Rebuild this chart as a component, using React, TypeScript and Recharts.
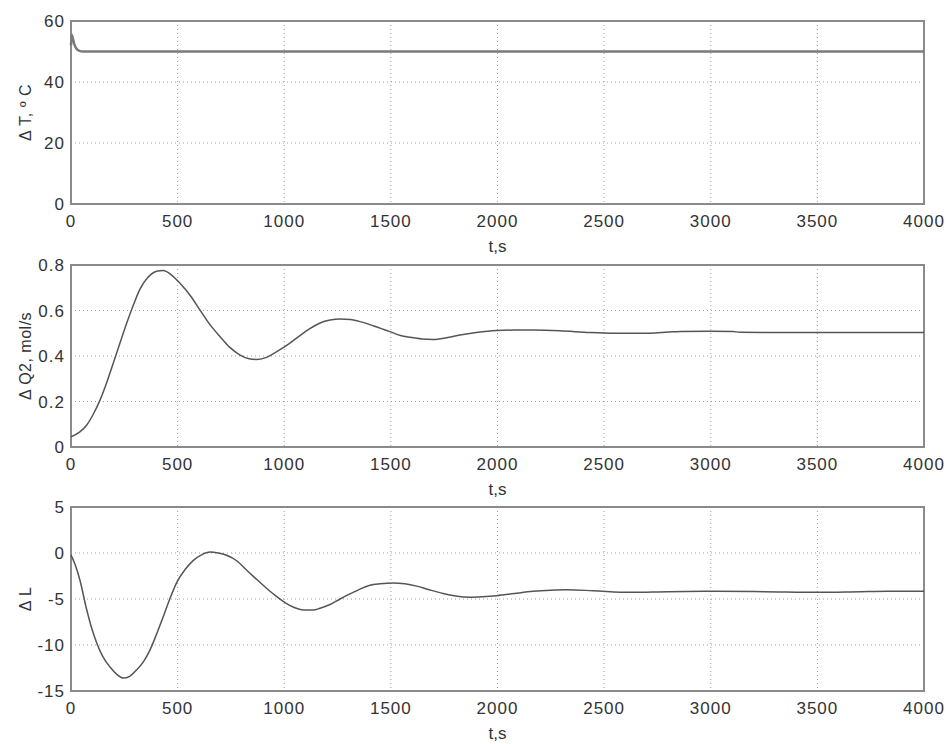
import React from "react";
import {
  LineChart,
  Line,
  XAxis,
  YAxis,
  CartesianGrid,
  ReferenceArea,
} from "recharts";

const timeTicks = [0, 500, 1000, 1500, 2000, 2500, 3000, 3500, 4000];

const tTime = [0, 3, 8, 15, 25, 40, 55, 4000];
const tValues = [52, 55.5, 54.5, 52.5, 51, 50.2, 50, 50];
const tTicks = [0, 20, 40, 60];

const qTime = [
  0, 40, 74, 105, 136, 168, 198, 230, 261, 293, 324, 360, 402, 433, 470, 511, 560,
  605, 650, 699, 745, 793, 835, 871, 920, 965, 1020, 1074, 1120, 1168, 1215, 1262,
  1310, 1355, 1420, 1496, 1545, 1590, 1645, 1698, 1760, 1824, 1900, 1996, 2080,
  2167, 2293, 2434, 2550, 2715, 2800, 2856, 3000, 3105, 3137, 3500, 4000,
];
const qValues = [
  0.045, 0.065, 0.097, 0.145, 0.206, 0.285, 0.368, 0.458, 0.544, 0.625, 0.695, 0.745,
  0.773, 0.776, 0.757, 0.72, 0.665, 0.602, 0.54, 0.485, 0.438, 0.404, 0.388, 0.385,
  0.395, 0.419, 0.452, 0.49, 0.52, 0.545, 0.558, 0.563, 0.56, 0.551, 0.532, 0.507,
  0.49, 0.482, 0.475, 0.473, 0.48, 0.492, 0.503, 0.512, 0.514, 0.514, 0.511, 0.503,
  0.5, 0.5, 0.505, 0.508, 0.509, 0.508, 0.504, 0.503, 0.503,
];
const qTicks = [0, 0.2, 0.4, 0.6, 0.8];

const lTime = [
  0, 20, 42, 74, 100, 121, 150, 183, 215, 245, 275, 308, 340, 370, 400, 433, 465,
  496, 535, 574, 612, 652, 690, 730, 780, 824, 870, 918, 965, 1011, 1050, 1090,
  1137, 1168, 1215, 1262, 1330, 1402, 1450, 1510, 1565, 1621, 1680, 1745, 1810,
  1871, 1930, 1996, 2080, 2167, 2250, 2325, 2449, 2621, 2800, 3011, 3250, 3513,
  3700, 3827, 4000,
];
const lValues = [
  -0.2, -1.3, -2.96, -6.2, -8.4, -9.8, -11.3, -12.4, -13.2, -13.6, -13.4, -12.7,
  -11.8, -10.55, -8.9, -6.9, -4.9, -3.2, -1.8, -0.8, -0.2, 0.1, 0.0, -0.25, -0.9,
  -1.88, -2.85, -3.86, -4.75, -5.5, -5.95, -6.2, -6.2, -6.0, -5.6, -5.0, -4.2, -3.5,
  -3.35, -3.26, -3.35, -3.6, -4.0, -4.4, -4.7, -4.8, -4.75, -4.64, -4.4, -4.17,
  -4.05, -4.0, -4.1, -4.27, -4.2, -4.16, -4.2, -4.27, -4.2, -4.16, -4.16,
];
const lTicks = [-15, -10, -5, 0, 5];

const FONT = "'Liberation Sans', Arial, sans-serif";
const TEXT_COLOR = "#333";

function build(times: number[], values: number[]) {
  return times.map((t, i) => ({ t, v: values[i] }));
}

const YLabel = (props: any) => {
  const vb = props.viewBox || {};
  const cx = 25;
  const cy = vb.y + vb.height / 2;
  return (
    <text
      x={cx}
      y={cy}
      transform={`rotate(-90, ${cx}, ${cy})`}
      textAnchor="middle"
      dominantBaseline="central"
      fontFamily={FONT}
      fontSize={16}
      fill={TEXT_COLOR}
      letterSpacing={0.5}
    >
      {props.text}
    </text>
  );
};

const XLabel = (props: any) => {
  const vb = props.viewBox || {};
  const cx = vb.x + vb.width / 2;
  const cy = vb.y + 42;
  return (
    <text
      x={cx}
      y={cy}
      textAnchor="middle"
      dominantBaseline="central"
      fontFamily={FONT}
      fontSize={17}
      fill={TEXT_COLOR}
    >
      t,s
    </text>
  );
};

type PanelProps = {
  data: { t: number; v: number }[];
  yDomain: [number, number];
  yTicks: number[];
  yLabel: string;
  height: number;
  top: number;
  bottom: number;
  stroke: string;
  strokeWidth: number;
  offsetY: number;
};

const Panel = ({ data, yDomain, yTicks, yLabel, height, top, bottom, stroke, strokeWidth, offsetY }: PanelProps) => (
  <div style={{ position: "absolute", left: 0, top: offsetY, width: 949, height }}>
    <LineChart
      width={949}
      height={height}
      data={data}
      margin={{ top, right: 25, left: 0, bottom }}
    >
      <CartesianGrid
        stroke="#a0a0a0"
        strokeDasharray="1 3"
        horizontalValues={yTicks}
        verticalValues={timeTicks}
      />
      <XAxis
        dataKey="t"
        type="number"
        domain={[0, 4000]}
        ticks={timeTicks}
        interval={0}
        height={39}
        axisLine={false}
        tickLine={false}
        tickMargin={5}
        tick={{ fontSize: 17, fontFamily: FONT, fill: TEXT_COLOR, letterSpacing: 1 }}
        label={<XLabel />}
      />
      <YAxis
        type="number"
        domain={yDomain}
        ticks={yTicks}
        interval={0}
        width={71}
        allowDataOverflow
        axisLine={false}
        tickLine={false}
        tickMargin={0}
        tick={{ fontSize: 17, fontFamily: FONT, fill: TEXT_COLOR, letterSpacing: 1 }}
        label={<YLabel text={yLabel} />}
      />
      <ReferenceArea
        x1={0}
        x2={4000}
        y1={yDomain[0]}
        y2={yDomain[1]}
        fill="none"
        stroke="#8a8a8a"
        strokeWidth={2}
        ifOverflow="extendDomain"
      />
      <Line
        type="monotone"
        dataKey="v"
        stroke={stroke}
        strokeWidth={strokeWidth}
        dot={false}
        isAnimationActive={false}
      />
    </LineChart>
  </div>
);

export default function App() {
  return (
    <div
      style={{
        position: "absolute",
        left: 0,
        top: 0,
        width: 949,
        height: 744,
        background: "#fff",
      }}
    >
      <Panel
        data={build(tTime, tValues)}
        yDomain={[0, 60]}
        yTicks={tTicks}
        yLabel="Δ T, º C"
        height={258}
        top={21}
        bottom={15}
        stroke="#7a7a7a"
        strokeWidth={2.5}
        offsetY={0}
      />
      <Panel
        data={build(qTime, qValues)}
        yDomain={[0, 0.8]}
        yTicks={qTicks}
        yLabel="Δ Q2, mol/s"
        height={258}
        top={22}
        bottom={15}
        stroke="#555"
        strokeWidth={1.5}
        offsetY={243}
      />
      <Panel
        data={build(lTime, lValues)}
        yDomain={[-15, 5]}
        yTicks={lTicks}
        yLabel="Δ L"
        height={258}
        top={21}
        bottom={14}
        stroke="#555"
        strokeWidth={1.5}
        offsetY={486}
      />
    </div>
  );
}
